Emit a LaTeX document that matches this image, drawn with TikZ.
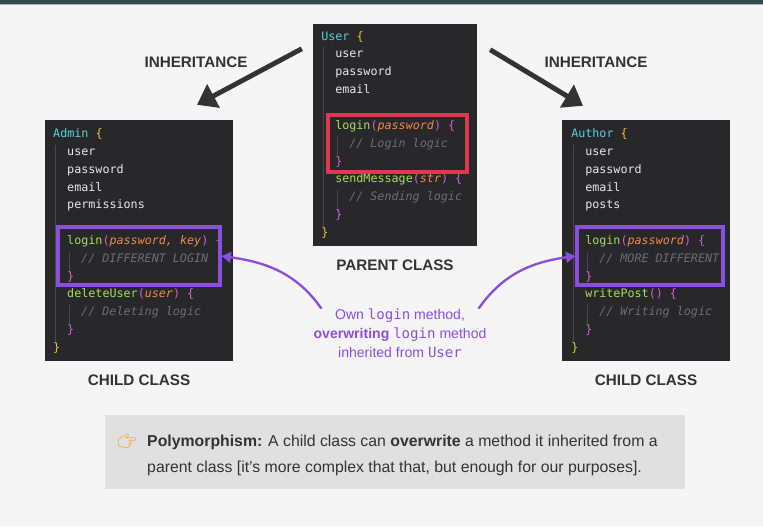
\documentclass[tikz,border=0pt]{standalone}
\usepackage{fontspec}
\setmainfont{Liberation Sans}
\setmonofont{DejaVu Sans Mono}
\newfontfamily\emojifont{Noto Emoji}
\usetikzlibrary{arrows.meta}

\definecolor{pagebg}{HTML}{F5F5F5}
\definecolor{topbar}{HTML}{37474F}
\definecolor{codebg}{HTML}{28282B}
\definecolor{guidecol}{HTML}{48484C}
\definecolor{propcol}{HTML}{E8E8E8}
\definecolor{clscol}{HTML}{5CCFE0}
\definecolor{brccol}{HTML}{EDC232}
\definecolor{fncol}{HTML}{A8DC5C}
\definecolor{prncol}{HTML}{D35FD0}
\definecolor{paramcol}{HTML}{F28A4C}
\definecolor{cmtcol}{HTML}{6E6E72}
\definecolor{redhl}{HTML}{E1384F}
\definecolor{purplehl}{HTML}{8B4FE0}
\definecolor{titlecol}{HTML}{333333}
\definecolor{notebg}{HTML}{E0E0E0}
\definecolor{handcol}{HTML}{F2A526}

\newcommand{\clsname}[1]{\textcolor{clscol}{#1}}
\newcommand{\brc}[1]{\textcolor{brccol}{#1}}
\newcommand{\fname}[1]{\textcolor{fncol}{#1}}
\newcommand{\prn}[1]{\textcolor{prncol}{#1}}
\newcommand{\param}[1]{\textcolor{paramcol}{\itshape #1}}
\newcommand{\cmt}[1]{\textcolor{cmtcol}{\itshape #1}}

\tikzset{
  codebox/.style={rectangle,fill=codebg,inner sep=0pt},
  code/.style={anchor=base west,inner sep=0pt,text=propcol,font=\ttfamily\fontsize{10}{12}\selectfont},
  guide/.style={draw=guidecol,line width=0.6pt},
  hlbox/.style={rectangle,draw=#1,line width=2.6pt,inner sep=0pt},
  title/.style={text=titlecol,font=\bfseries\fontsize{13}{15}\selectfont},
  inherit/.style={draw=titlecol,line width=4.2pt,-{Triangle[length=16pt,width=22pt]}},
  overwrite/.style={draw=purplehl,line width=2pt,-{Triangle[length=8pt,width=9pt]}},
  note/.style={text=purplehl,align=center,font=\fontsize{12}{16}\selectfont}
}

\begin{document}
\begin{tikzpicture}[x=0.03cm,y=-0.03cm]
\fill[pagebg] (0,0) rectangle (763,526);
\useasboundingbox (0,0) rectangle (763,526);
\fill[topbar] (0,0) rectangle (763,4);
\fill[topbar!40] (0,4) rectangle (763,5);

% boxes
\node[codebox,minimum width=4.92cm,minimum height=6.66cm] (user) at (395,135) {};
\node[codebox,minimum width=5.64cm,minimum height=7.23cm] (admin) at (139,240.5) {};
\node[codebox,minimum width=5.04cm,minimum height=7.23cm] (author) at (646,240.5) {};

% parent class code
\begin{scope}[xshift=9.63cm,yshift=-1.2cm,x=0.21cm,y=-0.536cm]
\draw[guide] (0.3,0.4) -- (0.3,10.6);
\draw[guide] (2.3,5.4) -- (2.3,6.6);
\draw[guide] (2.3,8.4) -- (2.3,9.6);
\node[code] at (0,0) {\clsname{User} \brc{\{}};
\node[code] at (2,1) {user};
\node[code] at (2,2) {password};
\node[code] at (2,3) {email};
\node[code] at (2,5) {\fname{login}\prn{(}\param{password}\prn{)} \prn{\{}};
\node[code] at (4,6) {\cmt{// Login logic}};
\node[code] at (2,7) {\prn{\}}};
\node[code] at (2,8) {\fname{sendMessage}\prn{(}\param{str}\prn{)} \prn{\{}};
\node[code] at (4,9) {\cmt{// Sending logic}};
\node[code] at (2,10) {\prn{\}}};
\node[code] at (0,11) {\brc{\}}};
\end{scope}

% child class code, left
\begin{scope}[xshift=1.59cm,yshift=-4.13cm,x=0.21cm,y=-0.534cm]
\draw[guide] (0.3,0.4) -- (0.3,11.6);
\draw[guide] (2.3,6.4) -- (2.3,7.6);
\draw[guide] (2.3,9.4) -- (2.3,10.6);
\node[code] at (0,0) {\clsname{Admin} \brc{\{}};
\node[code] at (2,1) {user};
\node[code] at (2,2) {password};
\node[code] at (2,3) {email};
\node[code] at (2,4) {permissions};
\node[code] at (2,6) {\fname{login}\prn{(}\param{password, key}\prn{)} \prn{\{}};
\node[code] at (4,7) {\cmt{// DIFFERENT LOGIN}};
\node[code] at (2,8) {\prn{\}}};
\node[code] at (2,9) {\fname{deleteUser}\prn{(}\param{user}\prn{)} \prn{\{}};
\node[code] at (4,10) {\cmt{// Deleting logic}};
\node[code] at (2,11) {\prn{\}}};
\node[code] at (0,12) {\brc{\}}};
\end{scope}

% child class code, right
\begin{scope}[xshift=17.13cm,yshift=-4.13cm,x=0.21cm,y=-0.534cm]
\draw[guide] (0.3,0.4) -- (0.3,11.6);
\draw[guide] (2.3,6.4) -- (2.3,7.6);
\draw[guide] (2.3,9.4) -- (2.3,10.6);
\node[code] at (0,0) {\clsname{Author} \brc{\{}};
\node[code] at (2,1) {user};
\node[code] at (2,2) {password};
\node[code] at (2,3) {email};
\node[code] at (2,4) {posts};
\node[code] at (2,6) {\fname{login}\prn{(}\param{password}\prn{)} \prn{\{}};
\node[code] at (4,7) {\cmt{// MORE DIFFERENT}};
\node[code] at (2,8) {\prn{\}}};
\node[code] at (2,9) {\fname{writePost}\prn{()} \prn{\{}};
\node[code] at (4,10) {\cmt{// Writing logic}};
\node[code] at (2,11) {\prn{\}}};
\node[code] at (0,12) {\brc{\}}};
\end{scope}

% highlighted methods
\node[hlbox=redhl,minimum width=4.17cm,minimum height=1.71cm] (userlogin) at (397.5,143.5) {};
\node[hlbox=purplehl,minimum width=4.86cm,minimum height=1.74cm] (adminlogin) at (139,256) {};
\node[hlbox=purplehl,minimum width=4.38cm,minimum height=1.74cm] (authorlogin) at (650,256) {};

% labels
\node[title] (inhleft) at (196,62) {INHERITANCE};
\node[title] (inhright) at (596,62) {INHERITANCE};
\node[title] (parent) at (395,265) {PARENT CLASS};
\node[title] (childleft) at (139,380) {CHILD CLASS};
\node[title] (childright) at (646,380) {CHILD CLASS};

\draw[inherit] ([shift={(-11,25)}]user.north west) -- ([shift={(58,-15)}]admin.north);
\draw[inherit] ([shift={(13,26)}]user.north east) -- ([shift={(-63,-14)}]author.north);

% annotation
\node[note] (own) at (400,333) {Own \texttt{login} method,\\\textbf{overwriting} \texttt{login} method\\inherited from \texttt{User}};
\draw[overwrite] ([shift={(12,4)}]own.north west) to[out=125,in=-8] (adminlogin.east);
\draw[overwrite] ([shift={(-12,4)}]own.north east) to[out=55,in=188] (authorlogin.west);

% polymorphism note
\node[rectangle,fill=notebg,minimum width=17.37cm,minimum height=2.22cm] (poly) at (395,452) {};
\node (hand) at (127,441) {\emojifont\fontsize{13}{13}\selectfont\textcolor{handcol}{👉}};
\node[anchor=base west,inner sep=0pt,align=left,text=titlecol,font=\fontsize{13.5}{22}\selectfont] (polytext) at (147,472)
  {\textbf{Polymorphism:} A child class can \textbf{overwrite} a method it inherited from a\\parent class [it’s more complex that that, but enough for our purposes].};
\end{tikzpicture}
\end{document}
